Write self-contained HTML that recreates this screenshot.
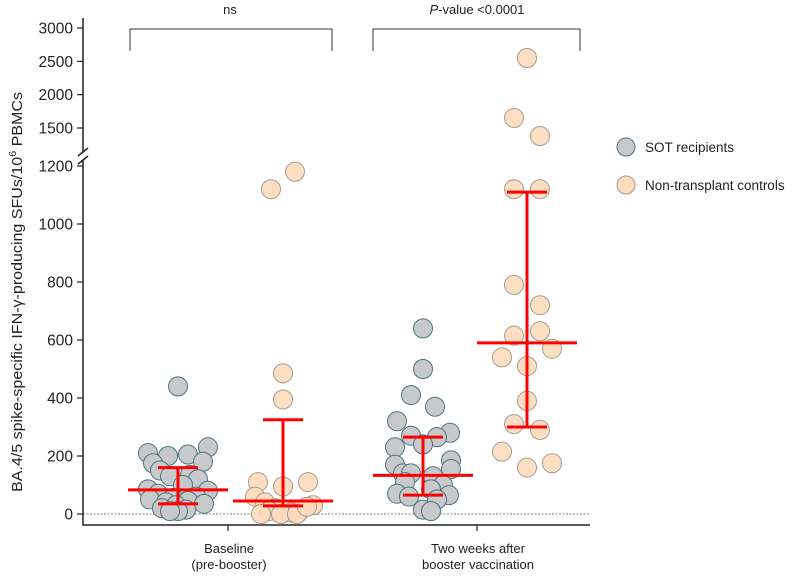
<!DOCTYPE html>
<html><head><meta charset="utf-8"><style>
body{margin:0;background:#fff;}
svg text{font-family:"Liberation Sans",Arial,sans-serif;fill:#222;}
</style></head><body>
<svg id="c" width="800" height="575" viewBox="0 0 800 575">
<g id="axes"></g>
<g id="marks"></g>
<text transform="translate(22,292) rotate(-90)" text-anchor="middle" font-size="15" textLength="400" lengthAdjust="spacingAndGlyphs">BA.4/5 spike-specific IFN-γ-producing SFUs/10<tspan font-size="10" dy="-6">6</tspan><tspan dy="6"> PBMCs</tspan></text>
<text x="230" y="14" text-anchor="middle" font-size="13">ns</text>
<text x="477" y="14" text-anchor="middle" font-size="13"><tspan font-style="italic">P</tspan>-value &lt;0.0001</text>
<path d="M130,51V29H332V51" fill="none" stroke="#333" stroke-width="1"/>
<path d="M373,51V29H580V51" fill="none" stroke="#333" stroke-width="1"/>
<text x="229" y="553" text-anchor="middle" font-size="13">Baseline</text>
<text x="229" y="569" text-anchor="middle" font-size="13">(pre-booster)</text>
<text x="478" y="553" text-anchor="middle" font-size="13">Two weeks after</text>
<text x="478" y="569" text-anchor="middle" font-size="13">booster vaccination</text>
<g>
<circle cx="626" cy="147" r="9" fill="#c8c9ca" stroke="#4d7380" stroke-width="1"/>
<text x="645" y="152" font-size="13.5">SOT recipients</text>
<circle cx="626" cy="185" r="9" fill="#fcdcbc" stroke="#a89a8c" stroke-width="1"/>
<text x="645" y="190" font-size="13.5">Non-transplant controls</text>
</g>
</svg>
<script>
const yTicksLow=[0,200,400,600,800,1000,1200];
const yTicksHigh=[1500,2000,2500,3000];
const groups=["SOT baseline","Control baseline","SOT two weeks","Control two weeks"];
const sotBase=[440,210,200,205,230,175,180,150,130,135,120,100,85,80,70,60,55,50,45,40,35,30,20,15,10,10];
const sotBaseJit=[0,-30,-10,10,30,-25,25,-18,-8,12,20,5,-30,30,-20,18,-5,-28,10,-12,26,-2,-16,8,0,-8];
const ctlBase=[1180,1120,485,395,110,110,95,60,40,30,20,15,10,5,0,0,0,25];
const ctlBaseJit=[12,-12,0,0,-25,25,0,-28,-18,30,-8,18,-14,8,-2,14,-22,24];
const sotTwo=[640,500,410,370,320,280,270,265,240,230,185,170,155,140,140,130,110,100,85,70,65,60,50,15,10];
const sotTwoJit=[0,0,-12,12,-26,27,-12,14,0,-28,28,-28,28,-20,-12,10,-18,20,8,-26,26,-14,14,0,8];
const ctlTwo=[2550,1650,1380,1120,1120,790,720,630,615,570,540,510,390,310,290,215,175,160];
const ctlTwoJit=[0,-13,13,-13,13,-13,13,13,-13,25,-25,0,0,-13,13,-25,25,0];
const medians=[83,45,133,590];
const q1=[35,28,65,300];
const q3=[160,325,265,1110];
const groupX=[178,283,423,527];
function y(v){ if(v<=1200) return 514-v*0.29; return 128-(v-1500)*(100/1500); }
const NS="http://www.w3.org/2000/svg";
function mk(t,a,p){const e=document.createElementNS(NS,t);for(const k in a)e.setAttribute(k,a[k]);p.appendChild(e);return e;}
const ax=document.getElementById('axes'), mg=document.getElementById('marks');
let e;
e=mk('path',{d:'M83,18V152M83,160V525H590',fill:'none',stroke:'#222','stroke-width':1.5},ax);


e=mk('path',{d:'M78,156L88,148M78,164L88,156',fill:'none',stroke:'#222','stroke-width':1.5},ax);


e=mk('line',{x1:83,x2:590,y1:y(0),y2:y(0),stroke:'#555','stroke-width':0.7,'stroke-dasharray':'2,1.5'},ax);


yTicksLow.concat(yTicksHigh).forEach(v=>{
  const yy=y(v);
  let t=mk('line',{x1:77,x2:83,y1:yy,y2:yy,stroke:'#222','stroke-width':1.2},ax);
  
  
  t=mk('text',{x:73,y:yy+5.5,'text-anchor':'end','font-size':15.5},ax);
  t.textContent=v;
  
  
});
[228,477].forEach(xx=>{
  const t=mk('line',{x1:xx,x2:xx,y1:525,y2:531,stroke:'#222','stroke-width':1.2},ax);
  
  
});
const sets=[[sotBase,sotBaseJit,0],[ctlBase,ctlBaseJit,1],[sotTwo,sotTwoJit,0],[ctlTwo,ctlTwoJit,1]];
sets.forEach((s,gi)=>{
  s[0].forEach((v,i)=>{
    const c=mk('circle',{cx:groupX[gi]+s[1][i],cy:y(v),r:9.5,fill:s[2]?'#fcdcbc':'#c8c9ca',stroke:s[2]?'#a89a8c':'#4d7380','stroke-width':1,'fill-opacity':s[2]?0.9:1},mg);
    
    
  });
});
groupX.forEach((gx,i)=>{
  const g=mk('g',{stroke:'#f00','stroke-width':3,fill:'none'},mg);
  
  
  mk('line',{x1:gx,x2:gx,y1:y(q1[i]),y2:y(q3[i])},g);
  mk('line',{x1:gx-20,x2:gx+20,y1:y(q1[i]),y2:y(q1[i])},g);
  mk('line',{x1:gx-20,x2:gx+20,y1:y(q3[i]),y2:y(q3[i])},g);
  mk('line',{x1:gx-50,x2:gx+50,y1:y(medians[i]),y2:y(medians[i])},g);
});
</script>
</body></html>
